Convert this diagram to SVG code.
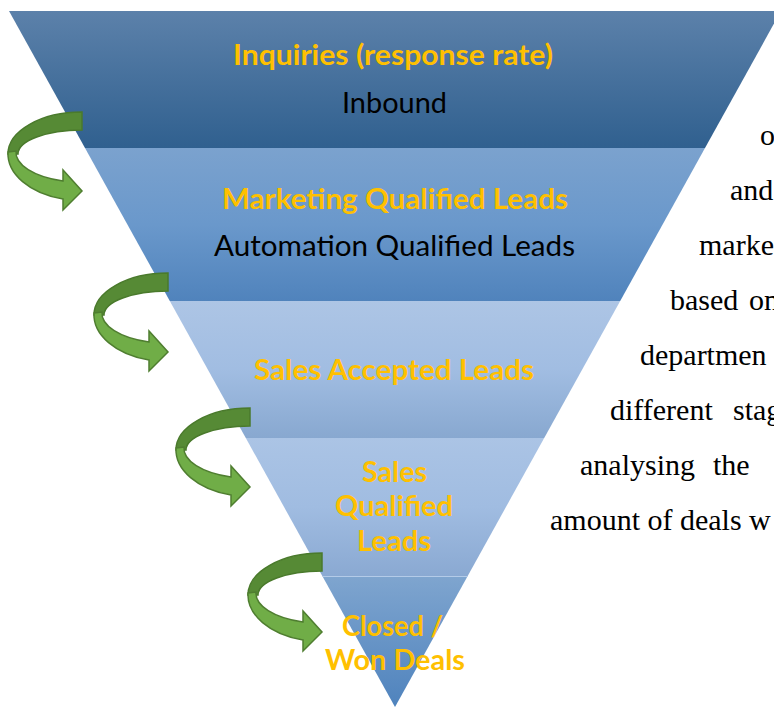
<svg xmlns="http://www.w3.org/2000/svg" width="774" height="708" viewBox="0 0 774 708">
<style>
.lbl{font-family:Lato,"Open Sans","Liberation Sans",sans-serif;font-size:28px;}
.b{font-weight:bold;fill:#FFC000;}
.r{fill:#000;}
.body{font-family:"Liberation Serif","Times New Roman",serif;font-size:30px;fill:#000;}
.back{fill:#568A35;stroke:#4A7A2C;stroke-width:1.5;}
.front{fill:#70AD47;stroke:#4F7E30;stroke-width:1.5;}
</style>
<defs>
<linearGradient id="g1" x1="0" y1="0" x2="0" y2="1"><stop offset="0" stop-color="#5C81AA"/><stop offset="1" stop-color="#30608F"/></linearGradient>
<linearGradient id="g2" x1="0" y1="0" x2="0" y2="1"><stop offset="0" stop-color="#7BA2CE"/><stop offset="0.5" stop-color="#6A98CB"/><stop offset="1" stop-color="#5083BC"/></linearGradient>
<linearGradient id="g3" x1="0" y1="0" x2="0" y2="1"><stop offset="0" stop-color="#ADC5E5"/><stop offset="0.5" stop-color="#A1BDE2"/><stop offset="1" stop-color="#88A8D0"/></linearGradient>
<linearGradient id="g4" x1="0" y1="0" x2="0" y2="1"><stop offset="0" stop-color="#ABC4E5"/><stop offset="0.5" stop-color="#A0BCE1"/><stop offset="1" stop-color="#8AA9D2"/></linearGradient>
<linearGradient id="g5" x1="0" y1="0" x2="0" y2="1"><stop offset="0" stop-color="#7FA5CF"/><stop offset="1" stop-color="#4F83BD"/></linearGradient>
<g id="carrow">
<path class="back" d="M82,112 A74,42 0 0 0 8,154 L18,154 A64,24 0 0 1 82,130 Z"/>
<path class="front" d="M8,152 A74,47 0 0 0 63,199 L63,210 L82,191 L63,170 L63,181 A66,30 0 0 1 16,151 Z"/>
</g>
</defs>
<rect width="774" height="708" fill="#fff"/>
<g id="funnel">
<g id="stage1"><polygon points="9,11 781,11 705,148 85,148" fill="url(#g1)"/>
<text class="lbl b" x="233" y="65" textLength="320" lengthAdjust="spacingAndGlyphs">Inquiries (response rate)</text>
<text class="lbl r" x="342" y="113" textLength="105" lengthAdjust="spacingAndGlyphs">Inbound</text></g>
<g id="stage2"><polygon points="85,148 705,148 620.2,301 169.8,301" fill="url(#g2)"/>
<text class="lbl b" x="222" y="209" textLength="346" lengthAdjust="spacingAndGlyphs">Marketing Qualified Leads</text>
<text class="lbl r" x="214" y="256" textLength="361" lengthAdjust="spacingAndGlyphs">Automation Qualified Leads</text></g>
<g id="stage3"><polygon points="169.8,301 620.2,301 544.2,438 245.8,438" fill="url(#g3)"/>
<text class="lbl b" x="254" y="380" textLength="280" lengthAdjust="spacingAndGlyphs">Sales Accepted Leads</text></g>
<g id="stage4"><polygon points="245.8,438 544.2,438 467.7,576 322.3,576" fill="url(#g4)"/>
<text class="lbl b" x="362" y="482" textLength="65" lengthAdjust="spacingAndGlyphs">Sales</text>
<text class="lbl b" x="335" y="516" textLength="118" lengthAdjust="spacingAndGlyphs">Qualified</text>
<text class="lbl b" x="357" y="551" textLength="74" lengthAdjust="spacingAndGlyphs">Leads</text></g>
<g id="stage5"><polygon points="322.3,576 467.7,576 395,707" fill="url(#g5)"/>
<line x1="322.6" y1="576.5" x2="467.4" y2="576.5" stroke="#B4CBE8" stroke-width="1"/>
<text class="lbl b" x="342" y="636" textLength="101" lengthAdjust="spacingAndGlyphs">Closed /</text>
<text class="lbl b" x="325" y="670" textLength="140" lengthAdjust="spacingAndGlyphs">Won Deals</text></g>
</g>
<g id="connectors">
<use href="#carrow"/>
<use href="#carrow" transform="translate(86,161)"/>
<use href="#carrow" transform="translate(168,296)"/>
<use href="#carrow" transform="translate(240,441)"/>
</g>
<g id="paragraph">
<text class="body" x="760" y="145">o</text>
<text class="body" x="730" y="200">and</text>
<text class="body" x="699" y="255">marke</text>
<text class="body" y="310"><tspan x="670">based</tspan><tspan x="749">on</tspan></text>
<text class="body" x="640" y="365">departmen</text>
<text class="body" y="420"><tspan x="610">different</tspan><tspan x="733">stag</tspan></text>
<text class="body" y="475"><tspan x="580">analysing</tspan><tspan x="713">the</tspan></text>
<text class="body" x="550" y="530">amount of deals w</text>
</g>
</svg>
